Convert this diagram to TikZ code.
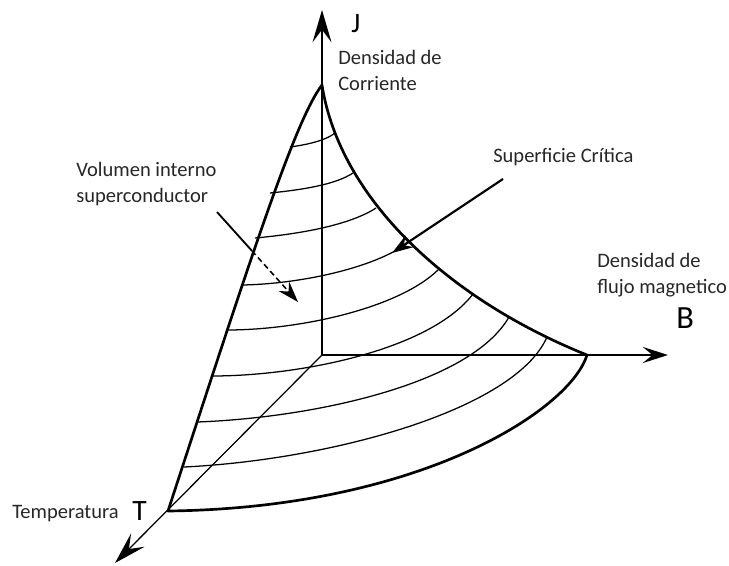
\documentclass[tikz,border=0pt]{standalone}
\usepackage{fontspec}
\setmainfont{Carlito}
\usetikzlibrary{arrows.meta,calc}
\begin{document}
\begin{tikzpicture}[x=0.025cm,y=-0.025cm,
  edge/.style={line width=1.9pt,line join=round},
  axis/.style={line width=1.3pt},
  level/.style={line width=0.9pt},
  bigtip/.style={-{Stealth[length=23pt,width=13.5pt,inset=9pt]}},
  smalltip/.style={-{Stealth[length=15pt,width=10pt,inset=5pt]}},
  lbl/.style={font=\fontsize{14.6}{17.8}\selectfont,text=black!85,inner sep=0pt,align=left,anchor=base west},
  big/.style={inner sep=0pt,anchor=base west}]
\useasboundingbox (0,0) rectangle (729,565);
\coordinate (O) at (322,355);
\coordinate (Jc) at (322,85);
\coordinate (Bc) at (587,355);
\coordinate (Tc) at (168,511);
\coordinate (Jend) at (322,10);
\coordinate (Bend) at (668,355);
\coordinate (Tend) at (115,563);
\draw[axis,bigtip] (O) -- (Jend);
\draw[axis,-{Stealth[length=18pt,width=11.5pt,inset=7pt]}] (O) -- (Bend);
\draw[level,bigtip] (O) -- (Tend);
\draw[level] (290,147) .. controls (305,145) and (325,141) .. (335,133);
\draw[level] (270,193) .. controls (300,190) and (335,185) .. (353,173);
\draw[level] (255,238) .. controls (300,234) and (350,225) .. (376,208);
\draw[level] (242,285) .. controls (300,284) and (375,268) .. (409,242);
\draw[level] (227,330) .. controls (300,330) and (400,308) .. (439,269);
\draw[level] (212,376) .. controls (300,376) and (430,350) .. (473,294);
\draw[level] (197,422) .. controls (310,418) and (470,385) .. (509,317);
\draw[level] (184,467) .. controls (330,460) and (515,410) .. (547,337);
\draw[edge] (Tc) .. controls (250,260) and (295,120) .. (Jc)
  .. controls (340,200) and (450,300) .. (Bc)
  .. controls (570,410) and (420,508) .. cycle;
\coordinate (supS) at (503,179);
\coordinate (supT) at (392,253);
\draw[line width=1.5pt,smalltip] (supS) -- (supT);
\coordinate (volS) at (217,212);
\coordinate (volT) at (298,302);
\coordinate (volX) at ($(volS)!0.43!(volT)$);
\draw[line width=1.3pt] (volS) -- (volX);
\draw[line width=1.1pt,dash pattern=on 4pt off 2.5pt,smalltip] (volX) -- (volT);
\node[lbl] (lJ) at (338,90) {Densidad de\\Corriente};
\node[lbl] (lSup) at (493,162) {Superficie Crítica};
\node[lbl] (lVol) at (76,202) {Volumen interno\\superconductor};
\node[lbl] (lB) at (597,293) {Densidad de\\flujo magnetico};
\node[lbl] (lT) at (12,518) {Temperatura};
\node[big,font=\fontsize{20}{22}\selectfont] (nJ) at (351,33) {J};
\node[big,font=\fontsize{23}{25}\selectfont] (nB) at (676,328) {B};
\node[big,font=\fontsize{21}{23}\selectfont] (nT) at (132,520) {T};
\end{tikzpicture}
\end{document}
